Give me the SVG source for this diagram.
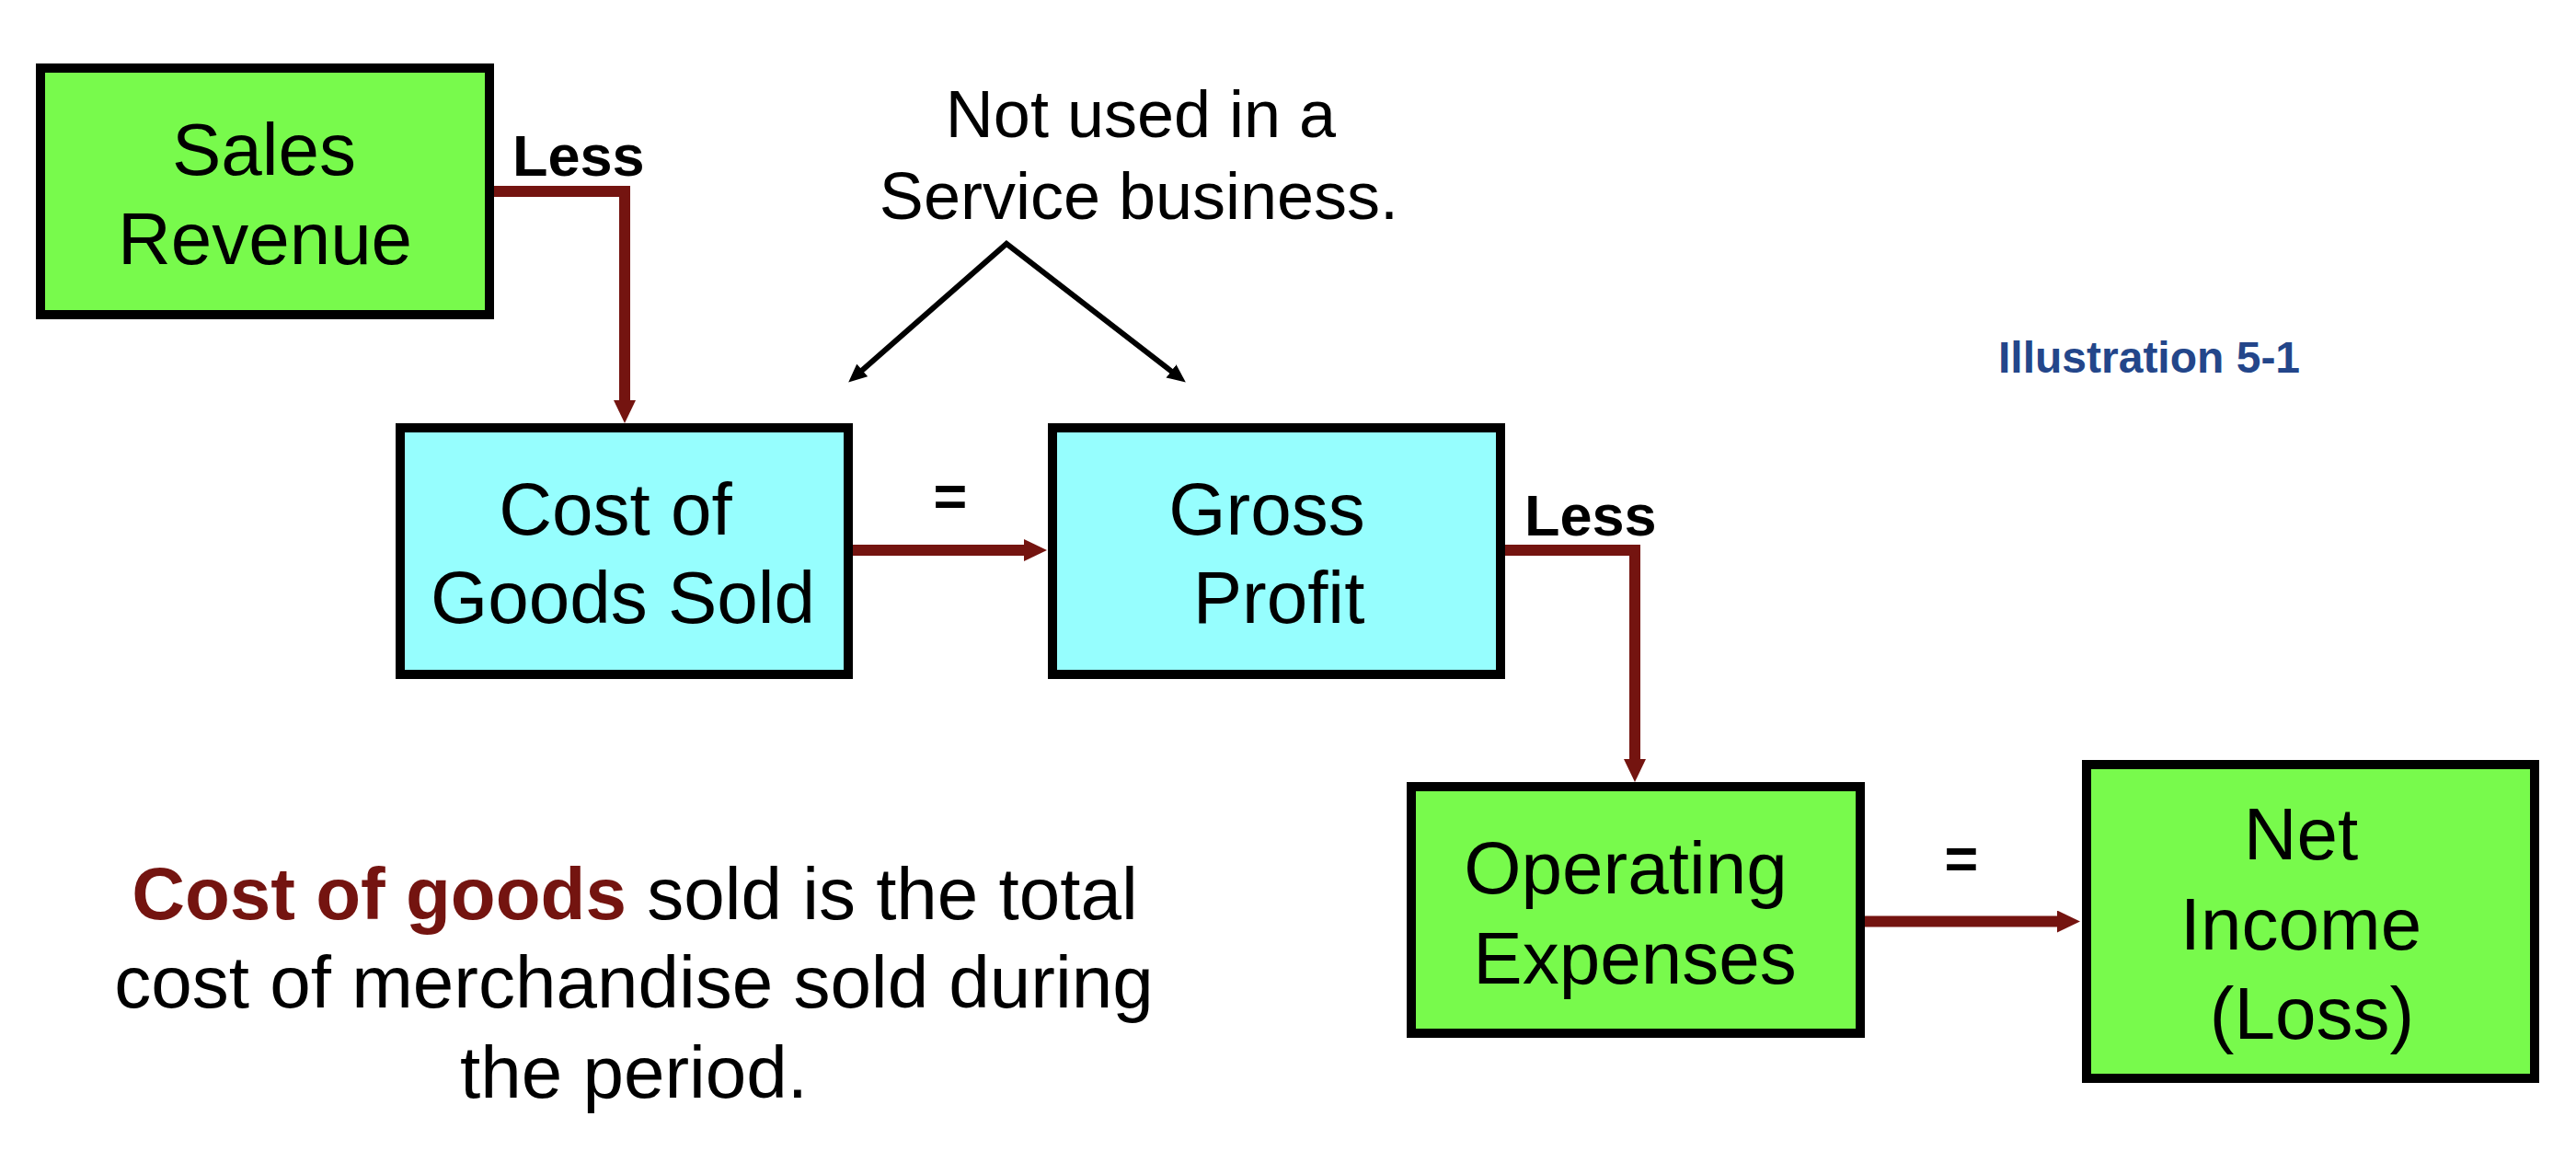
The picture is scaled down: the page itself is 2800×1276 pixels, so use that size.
<svg xmlns="http://www.w3.org/2000/svg" width="2800" height="1276" viewBox="0 0 2800 1276">
<style>
text{font-family:"Liberation Sans",Arial,sans-serif;fill:#000}
.box{stroke:#000;stroke-width:10}
.green{fill:#78FA4C}
.cyan{fill:#96FEFE}
.lbl{font-size:80px;text-anchor:middle}
.less{font-size:63px;font-weight:bold}
.eq{font-size:63px;font-weight:bold;text-anchor:middle}
.conn{fill:none;stroke:#741410;stroke-width:12;stroke-linejoin:miter}
.note{font-size:72px;text-anchor:middle}
.para{font-size:80px;text-anchor:middle}
</style>
<defs>
<marker id="ahRed" markerUnits="userSpaceOnUse" markerWidth="25" markerHeight="24" refX="1" refY="12" orient="auto" viewBox="0 0 25 24">
<path d="M0,0 L25,12 L0,24 z" fill="#741410"/>
</marker>
<marker id="ahBlk" markerUnits="userSpaceOnUse" markerWidth="20" markerHeight="18" refX="1" refY="9" orient="auto-start-reverse" viewBox="0 0 20 18">
<path d="M0,0 L20,9 L0,18 z" fill="#000"/>
</marker>
</defs>
<rect width="2800" height="1276" fill="#fff"/>

<g id="connectors">
<path class="conn" d="M537,208 H679 V436" marker-end="url(#ahRed)"/>
<path class="conn" d="M927,598 H1114" marker-end="url(#ahRed)"/>
<path class="conn" d="M1636,598 H1777 V826" marker-end="url(#ahRed)"/>
<path class="conn" d="M2026,1001.5 H2237" marker-end="url(#ahRed)"/>
<path d="M936.5,403 L1094,265 L1273.8,404" fill="none" stroke="#000" stroke-width="6" stroke-linejoin="miter" marker-start="url(#ahBlk)" marker-end="url(#ahBlk)"/>
<text class="less" x="557" y="191">Less</text>
<text class="less" x="1657" y="582">Less</text>
<text class="eq" x="1033" y="561">=</text>
<text class="eq" x="2132" y="955">=</text>
</g>

<g id="sales-revenue">
<rect class="box green" x="44" y="74" width="488" height="268"/>
<text class="lbl" x="287" y="190">Sales</text>
<text class="lbl" x="288" y="287">Revenue</text>
</g>

<g id="cost-of-goods-sold">
<rect class="box cyan" x="435" y="465" width="487" height="268"/>
<text class="lbl" x="669" y="581">Cost of</text>
<text class="lbl" x="677" y="677">Goods Sold</text>
</g>

<g id="gross-profit">
<rect class="box cyan" x="1144" y="465" width="487" height="268"/>
<text class="lbl" x="1377" y="581">Gross</text>
<text class="lbl" x="1390" y="677">Profit</text>
</g>

<g id="operating-expenses">
<rect class="box green" x="1534" y="855" width="488" height="268"/>
<text class="lbl" x="1767" y="971">Operating</text>
<text class="lbl" x="1777" y="1069">Expenses</text>
</g>

<g id="net-income">
<rect class="box green" x="2268" y="831" width="487" height="341"/>
<text class="lbl" x="2501" y="934">Net</text>
<text class="lbl" x="2501" y="1032">Income</text>
<text class="lbl" x="2513" y="1129">(Loss)</text>
</g>

<g id="note">
<text class="note" x="1240" y="149">Not used in a</text>
<text class="note" x="1238" y="238">Service business.</text>
</g>

<g id="illustration-label">
<text x="2172" y="405" font-size="48" font-weight="bold" style="fill:#23468A">Illustration 5-1</text>
</g>

<g id="definition">
<text class="para" x="690" y="999"><tspan font-weight="bold" style="fill:#741410">Cost of goods</tspan> sold is the total</text>
<text class="para" x="689" y="1095">cost of merchandise sold during</text>
<text class="para" x="689" y="1193">the period.</text>
</g>
</svg>
